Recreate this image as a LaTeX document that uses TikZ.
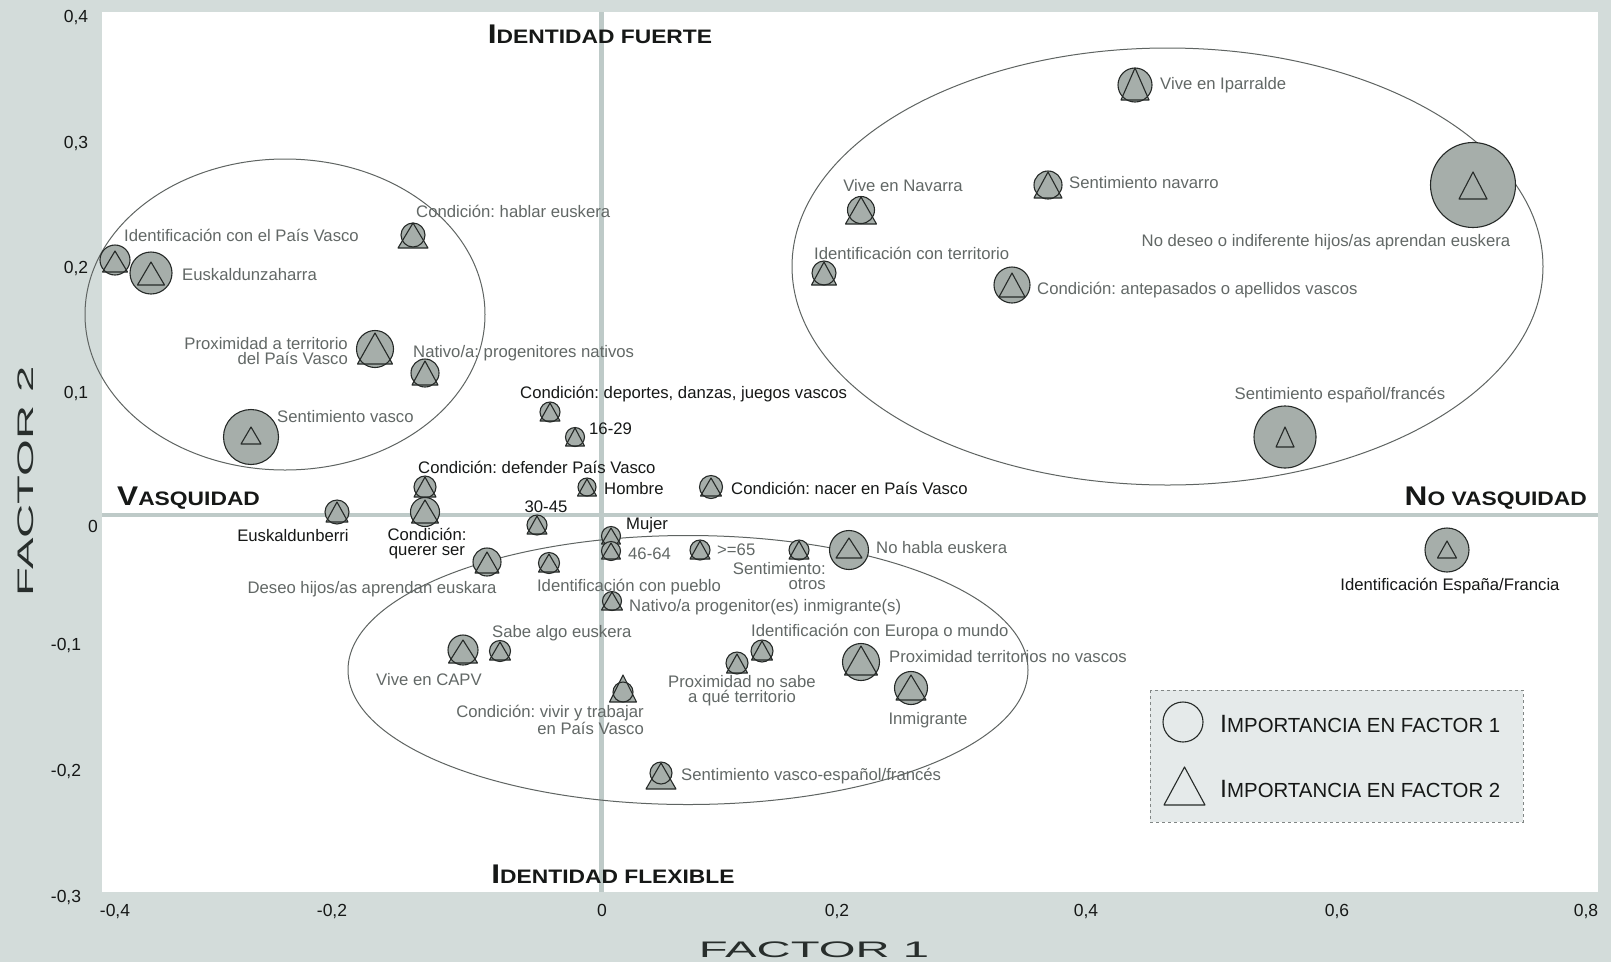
\documentclass[tikz,border=0pt]{standalone}
\usepackage{fontspec}
\setmainfont{Liberation Sans}
\newfontfamily\anchafont[FakeStretch=2.1]{Liberation Sans}
\newfontfamily\rotulofont[FakeStretch=1.17]{Liberation Sans}
\definecolor{fondo}{RGB}{211,220,218}
\definecolor{eje}{RGB}{190,202,200}
\definecolor{relleno}{RGB}{166,174,170}
\definecolor{borde}{RGB}{38,42,40}
\definecolor{elipse}{RGB}{95,100,98}
\definecolor{gris}{RGB}{98,104,102}
\definecolor{negro}{RGB}{22,24,23}
\definecolor{titulo}{RGB}{40,46,44}
\definecolor{leyenda}{RGB}{229,234,234}
\frenchspacing

\newcommand{\versal}[4]{{\fontsize{#3}{#3}\selectfont #1}{\fontsize{#4}{#4}\selectfont #2}}
\newcommand{\marca}[7]{%
  \fill[relleno] ({#2-#5/2},{#3+#7}) -- ({#2+#5/2},{#3+#7}) -- ({#2},{#3+#7-#6}) -- cycle;
  \node[punto, minimum size={2*#4}] (#1) at (#2,#3) {};
  \draw[borde, line width=1.1pt, line join=round] ({#2-#5/2},{#3+#7}) -- ({#2+#5/2},{#3+#7}) -- ({#2},{#3+#7-#6}) -- cycle;}

\tikzset{
  punto/.style={circle, draw=borde, fill=relleno, line width=1.1pt, inner sep=0pt, outer sep=0pt},
  etq/.style={font=\fontsize{16.7}{15}\selectfont, text=gris, inner sep=0pt},
  etqn/.style={etq, text=negro},
  marco/.style={font=\fontsize{17.5}{18}\selectfont, text=negro, inner sep=0pt, anchor=base},
  cuadrante/.style={font=\rotulofont\bfseries, text=negro, inner sep=0pt},
  factor/.style={font=\anchafont\fontsize{22.5}{22.5}\selectfont, text=titulo, inner sep=0pt},
}

\begin{document}
\begin{tikzpicture}[x=1pt, y=-1pt]
\fill[fondo] (0,0) rectangle (1611,962);
\useasboundingbox (0,0) rectangle (1611,962);
\fill[white] (102,12) rectangle (1598,892);
\draw[eje, line width=5pt] (601,12) -- (601,892);
\draw[eje, line width=4.5pt] (102,515) -- (1598,515);

\node[marco] (xm4) at (115,916) {-0,4};
\node[marco] (xm2) at (332,916) {-0,2};
\node[marco] (x0) at (602,916) {0};
\node[marco] (x2) at (837,916) {0,2};
\node[marco] (x4) at (1086,916) {0,4};
\node[marco] (x6) at (1337,916) {0,6};
\node[marco] (x8) at (1586,916) {0,8};
\node[marco] (y4) at (76,22) {0,4};
\node[marco] (y3) at (76,148) {0,3};
\node[marco] (y2) at (76,273) {0,2};
\node[marco] (y1) at (76,398) {0,1};
\node[marco] (y0) at (93,532) {0};
\node[marco] (ym1) at (66,650) {-0,1};
\node[marco] (ym2) at (66,776) {-0,2};
\node[marco] (ym3) at (66,902) {-0,3};

\node[factor] (factor1) at (814,950) {FACTOR 1};
\node[factor, rotate=90] (factor2) at (26,481) {FACTOR 2};

\node[cuadrante, anchor=base] (fuerte) at (600,43) {\versal{I}{DENTIDAD FUERTE}{27}{19.5}};
\node[cuadrante, anchor=base] (flexible) at (613,883) {\versal{I}{DENTIDAD FLEXIBLE}{27}{19.5}};
\node[cuadrante, anchor=base west] (vasquidad) at (117,505) {\versal{V}{ASQUIDAD}{27}{19.5}};
\node[cuadrante, anchor=base east] (novasquidad) at (1587,505) {\versal{N}{O VASQUIDAD}{27}{19.5}};

\draw[elipse, line width=1pt] (285,314.5) ellipse [x radius=200pt, y radius=155.5pt];
\draw[elipse, line width=1pt] (1167.5,266.5) ellipse [x radius=375.5pt, y radius=218.5pt];
\draw[elipse, line width=1pt] (688,670) ellipse [x radius=340pt, y radius=134.5pt];

\marca{ipv}{115}{260}{15}{25}{21}{12}
\marca{euszah}{151}{273}{21}{27}{23}{12}
\marca{hablar}{413}{235}{12}{30}{25}{13}
\marca{proxpv}{375}{349}{18.5}{35}{31}{15}
\marca{nativo}{425}{373}{14}{26}{24}{12}
\marca{sentvasco}{251}{437}{27.5}{20}{17}{7}
\marca{deportes}{550}{412}{10}{20}{18}{9}
\marca{e1629}{575}{437}{9.5}{19}{18}{9}
\marca{defender}{425}{487}{11}{22}{20}{10}
\marca{hombre}{587}{487}{9}{19}{17}{9}
\marca{nacer}{711}{487}{11.5}{21}{18}{9}
\marca{euskberri}{337}{512}{12}{22}{20}{10}
\marca{querer}{425}{512}{14.5}{27}{23}{11}
\marca{e3045}{537}{525}{10}{20}{18}{9}
\marca{mujer}{611}{536}{9.5}{19}{16}{8}
\marca{e4664}{611}{551}{9.5}{19}{16}{8}
\marca{e65}{700}{550}{10}{20}{18}{9}
\marca{sentotros}{799}{550}{10}{20}{18}{9}
\marca{nohabla}{849}{550}{19.5}{26}{20}{8}
\marca{deseo}{487}{562}{14}{24}{21}{11}
\marca{idpueblo}{549}{563}{10.5}{21}{18}{9}
\marca{natinm}{612}{601}{9.5}{21}{18}{9}
\marca{sabealgo}{500}{651}{10.5}{21}{18}{9}
\marca{capv}{463}{650}{15}{29}{23}{13}
\marca{vivirtrab}{623}{692}{10}{27}{27}{10}
\marca{proxnosabe}{737}{663}{11}{21}{19}{10}
\marca{europa}{762}{651}{11}{21}{19}{9}
\marca{proxnovasc}{861}{662}{18.5}{33}{29}{13}
\marca{inmig}{911}{688}{16.5}{30}{25}{12}
\marca{sentvesp}{661}{773}{11}{30}{26}{16}
\marca{ipar}{1135}{85}{17}{28}{32}{15}
\marca{sentnav}{1048}{185}{14}{28}{26}{13}
\marca{navarra}{861}{210}{13.5}{31}{27}{14}
\marca{idterr}{824}{273}{12}{25}{23}{12}
\marca{antepas}{1012}{285}{18}{26}{24}{12}
\marca{nodeseo}{1473}{185}{42.5}{28}{27}{14}
\marca{sentesp}{1285}{437}{31}{18}{20}{10}
\marca{idespfr}{1447}{550}{22}{19}{17}{8}

\node[etq, anchor=base west] (lipv) at (124,241) {Identificación con el País Vasco};
\node[etq, anchor=base west] (leuszah) at (182,280) {Euskaldunzaharra};
\node[etq, anchor=base west] (lhablar) at (416,217) {Condición: hablar euskera};
\node[etq, anchor=base east, align=right] (lproxpv) at (348,364) {Proximidad a territorio\\del País Vasco};
\node[etq, anchor=base west] (lnativo) at (413,357) {Nativo/a: progenitores nativos};
\node[etq, anchor=base west] (lsentvasco) at (277,422) {Sentimiento vasco};
\node[etqn, anchor=base west] (ldeportes) at (520,398) {Condición: deportes, danzas, juegos vascos};
\node[etqn, anchor=base west] (le1629) at (589,434) {16-29};
\node[etqn, anchor=base west] (ldefender) at (418,473) {Condición: defender País Vasco};
\node[etqn, anchor=base west] (lhombre) at (604,494) {Hombre};
\node[etqn, anchor=base west] (lnacer) at (731,494) {Condición: nacer en País Vasco};
\node[etqn, anchor=base] (leuskberri) at (293,541) {Euskaldunberri};
\node[etqn, anchor=base, align=center] (lquerer) at (427,555) {Condición:\\querer ser};
\node[etqn, anchor=base] (le3045) at (546,512) {30-45};
\node[etqn, anchor=base west] (lmujer) at (626,529) {Mujer};
\node[etq, anchor=base west] (le4664) at (628,559) {46-64};
\node[etq, anchor=base west] (le65) at (717,555) {>=65};
\node[etq, anchor=base east, align=right] (lsentotros) at (826,589) {Sentimiento:\\otros};
\node[etq, anchor=base west] (lnohabla) at (876,553) {No habla euskera};
\node[etq, anchor=base] (ldeseo) at (372,593) {Deseo hijos/as aprendan euskara};
\node[etq, anchor=base] (lidpueblo) at (629,591) {Identificación con pueblo};
\node[etq, anchor=base west] (lnatinm) at (629,611) {Nativo/a progenitor(es) inmigrante(s)};
\node[etq, anchor=base west] (lsabealgo) at (492,637) {Sabe algo euskera};
\node[etq, anchor=base] (lcapv) at (429,685) {Vive en CAPV};
\node[etq, anchor=base east, align=right] (lvivirtrab) at (644,734) {Condición: vivir y trabajar\\en País Vasco};
\node[etq, anchor=base, align=center] (lproxnosabe) at (742,702) {Proximidad no sabe\\a qué territorio};
\node[etq, anchor=base west] (leuropa) at (751,636) {Identificación con Europa o mundo};
\node[etq, anchor=base west] (lproxnovasc) at (889,662) {Proximidad territorios no vascos};
\node[etq, anchor=base] (linmig) at (928,724) {Inmigrante};
\node[etq, anchor=base west] (lsentvesp) at (681,780) {Sentimiento vasco-español/francés};
\node[etq, anchor=base west] (lipar) at (1160,89) {Vive en Iparralde};
\node[etq, anchor=base west] (lsentnav) at (1069,188) {Sentimiento navarro};
\node[etq, anchor=base] (lnavarra) at (903,191) {Vive en Navarra};
\node[etq, anchor=base west] (lidterr) at (814,259) {Identificación con territorio};
\node[etq, anchor=base west] (lantepas) at (1037,294) {Condición: antepasados o apellidos vascos};
\node[etq, anchor=base] (lnodeseo) at (1326,246) {No deseo o indiferente hijos/as aprendan euskera};
\node[etq, anchor=base] (lsentesp) at (1340,399) {Sentimiento español/francés};
\node[etqn, anchor=base] (lidespfr) at (1450,590) {Identificación España/Francia};

\draw[gris!80, dashed, fill=leyenda, line width=0.8pt] (1150,690) rectangle (1523,822);
\node[circle, draw=borde, line width=1.1pt, minimum size=40pt, inner sep=0pt] (leyc) at (1183,722) {};
\draw[borde, line width=1.1pt, line join=round] (1164,805) -- (1205,805) -- (1184.5,767) -- cycle;
\node[inner sep=0pt, text=negro, anchor=base west] (ley1) at (1220,732) {\versal{I}{MPORTANCIA EN FACTOR 1}{25}{20.4}};
\node[inner sep=0pt, text=negro, anchor=base west] (ley2) at (1220,797) {\versal{I}{MPORTANCIA EN FACTOR 2}{25}{20.4}};
\end{tikzpicture}
\end{document}
